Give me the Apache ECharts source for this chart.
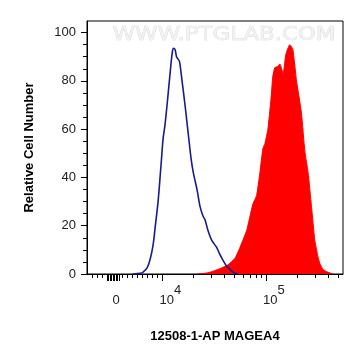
<!DOCTYPE html>
<html><head><meta charset="utf-8">
<script src="https://cdn.jsdelivr.net/npm/echarts@6/dist/echarts.min.js"></script>
<style>html,body{margin:0;padding:0;background:#fff}#c{width:364px;height:363px}</style>
</head><body><div id="c"></div>
<script>
// x values are positions on the (biexponential) display axis, in decades: 4 = 10^4, 5 = 10^5
const controlX = [3.7175,3.7850,3.8139,3.8524,3.8814,3.9103,3.9296,3.9586,3.9778,3.9923,4.0068,4.0260,4.0453,4.0743,4.0935,4.1061,4.1225,4.1369,4.1514,4.1659,4.1900,4.2189,4.2478,4.2768,4.2989,4.3346,4.3636,4.3925,4.4118,4.4407,4.4764,4.5246,4.5564,4.5757,4.6210,4.6528,4.6818,4.7300];
const controlY = [0,0.3,0.8,2.5,6,12,19,30,40,48,56,62,70,83,91,93.5,93,90,89,88,80,70,59,48,42,35,28,24,22.5,18,14,11,8,6.5,3.2,2,0.8,0];
const sampleX = [4.3346,4.4118,4.4600,4.5564,4.6336,4.7011,4.7493,4.8139,4.8746,4.9103,4.9421,4.9711,4.9904,5.0193,5.0482,5.0675,5.0868,5.1157,5.1350,5.1668,5.1929,5.2314,5.2604,5.2961,5.3182,5.3443,5.3761,5.4079,5.4407,5.4725,5.5014,5.5207,5.5497,5.5853,5.6461];
const sampleY = [0,0.3,0.7,2.2,3.8,6.5,11,18,29,32.5,42,52,54,60,72,82,85.5,86,87,83,91,95,93,80,74,66.5,51,42,28,14,7.5,4.5,2,1,0];
const yTickValues = [0,20,40,60,80,100];
const yMinorValues = [5,10,15,25,30,35,45,50,55,65,70,75,85,90,95];
const xLabelValues = [3.5535,4,5];
const xLabelTexts = ['{z|0}','{b|10}{s|4}','{b|10}{s|5}'];
const xMajorValues = [4,5];
const xZeroBlock = [3.467,3.481,3.496,3.510,3.525,3.539,3.554,3.568,3.583];
const xLinearMinor = [3.3192,3.3674,3.4156,3.6085,3.6567,3.7049,3.7531,3.8014,3.8496,3.8978,3.9460];
const logMultipliers = [2,3,4,5,6,7,8,9];
const X_MIN = 3.272, X_MAX = 5.745, Y_MIN = 0, Y_MAX = 104.8;

const xLogMinor = [];
[4,5].forEach(d => logMultipliers.forEach(m => { const v = d + Math.log10(m); if (v < X_MAX) xLogMinor.push(+v.toFixed(4)); }));

const pair = (xs, ys) => xs.map((x, i) => [x, ys[i]]);
const font = 'Liberation Sans, Arial, sans-serif';

const chart = echarts.init(document.getElementById('c'), null, {renderer: 'canvas'});
chart.setOption({
  animation: false,
  backgroundColor: '#fff',
  grid: {left: 87, right: 21, top: 21, bottom: 89, show: true, borderColor: '#000', borderWidth: 1, outerBoundsMode: 'none'},
  graphic: [{
    type: 'text', x: 224, y: 35, scaleX: 1.2, z: 0,
    style: {text: 'WWW.PTGLAB.COM', x: 0, y: 0, textAlign: 'center', textVerticalAlign: 'middle',
      fill: '#f2f2f2', stroke: '#d2d2d2', lineWidth: 0.6, font: '19px DejaVu Sans, sans-serif'}
  }],
  xAxis: [{
    type: 'value', min: X_MIN, max: X_MAX,
    name: '12508-1-AP MAGEA4', nameLocation: 'middle', nameGap: 56,
    nameTextStyle: {fontFamily: font, fontSize: 13, fontWeight: 'bold', color: '#000'},
    axisLine: {show: true, lineStyle: {color: '#000', width: 1}},
    axisTick: {show: true, length: 7, customValues: xMajorValues.concat(xZeroBlock), lineStyle: {color: '#000', width: 1}},
    axisLabel: {show: true, customValues: xLabelValues, margin: 10,
      formatter: (v) => xLabelTexts[xLabelValues.indexOf(v)] || '',
      rich: {
        z: {fontFamily: font, fontSize: 13, color: '#222', padding: [18, 0, 0, 0], lineHeight: 15},
        b: {fontFamily: font, fontSize: 13, color: '#222', padding: [18, 0, 0, 16], lineHeight: 15},
        s: {fontFamily: font, fontSize: 13, color: '#222', verticalAlign: 'top', lineHeight: 15}
      }},
    splitLine: {show: false}
  }, {
    type: 'value', min: X_MIN, max: X_MAX, position: 'bottom',
    axisLine: {show: false},
    axisTick: {show: true, length: 4, customValues: xLinearMinor.concat(xLogMinor), lineStyle: {color: '#000', width: 1}},
    axisLabel: {show: false}, splitLine: {show: false}
  }],
  yAxis: [{
    type: 'value', min: Y_MIN, max: Y_MAX,
    name: 'Relative Cell Number', nameLocation: 'middle', nameGap: 51,
    nameTextStyle: {fontFamily: font, fontSize: 13, fontWeight: 'bold', color: '#000'},
    axisLine: {show: true, lineStyle: {color: '#000', width: 1}},
    axisTick: {show: true, length: 6, customValues: yTickValues, lineStyle: {color: '#000', width: 1}},
    axisLabel: {show: true, customValues: yTickValues, margin: 11, fontFamily: font, fontSize: 13, color: '#222'},
    splitLine: {show: false}
  }, {
    type: 'value', min: Y_MIN, max: Y_MAX, position: 'left',
    axisLine: {show: false},
    axisTick: {show: true, length: 4, customValues: yMinorValues, lineStyle: {color: '#000', width: 1}},
    axisLabel: {show: false}, splitLine: {show: false}
  }],
  series: [{
    name: 'MAGEA4', type: 'line', data: pair(sampleX, sampleY), showSymbol: false, smooth: 0.15,
    lineStyle: {color: '#ff0000', width: 1}, areaStyle: {color: '#ff0000', opacity: 1}, z: 2
  }, {
    name: 'Control', type: 'line', data: pair(controlX, controlY), showSymbol: false, smooth: 0.3,
    lineStyle: {color: '#1a1a8e', width: 1.6}, z: 3
  }]
});
</script>
</body></html>
